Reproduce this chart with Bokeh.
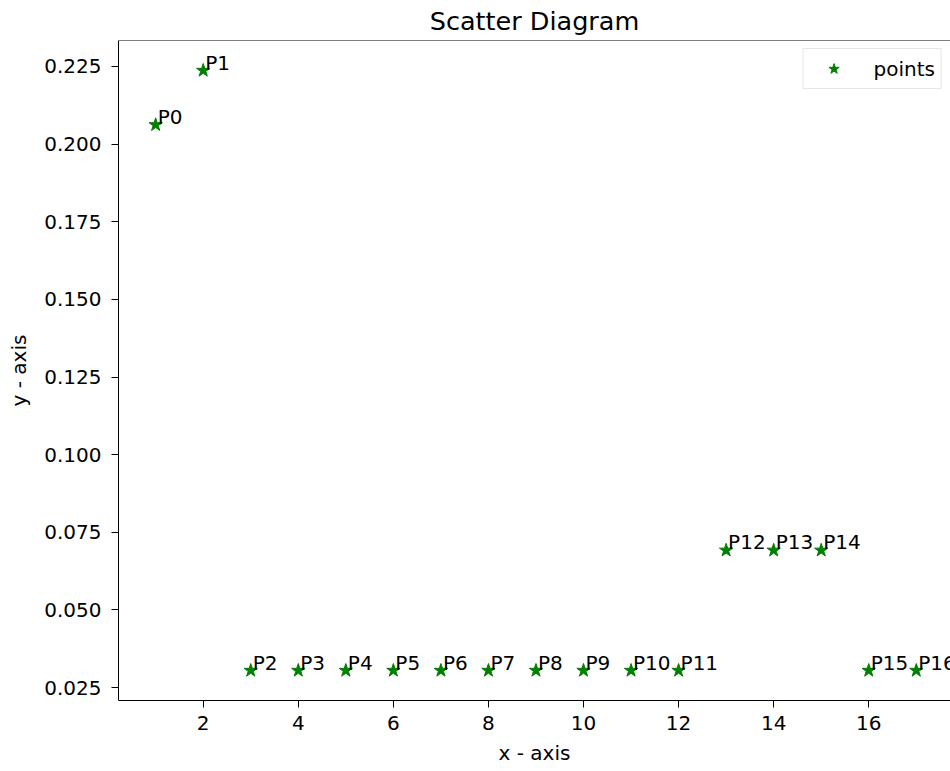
from bokeh.plotting import figure
from bokeh.models import ColumnDataSource, FixedTicker, Range1d, Legend, LegendItem, Span
from bokeh.core.properties import value
from bokeh.embed import file_html
from bokeh.resources import INLINE

# data
xs = list(range(1, 18))
labels = ["P%d" % i for i in range(17)]
ys = [0.2062, 0.2237, 0.0305, 0.0305, 0.0305, 0.0305, 0.0305, 0.0305, 0.0305,
      0.0305, 0.0305, 0.0305, 0.0692, 0.0692, 0.0692, 0.0305, 0.0305]
x_ticks = [2, 4, 6, 8, 10, 12, 14, 16]
y_ticks = [0.025, 0.050, 0.075, 0.100, 0.125, 0.150, 0.175, 0.200, 0.225]
y_tick_labels = {t: "%.3f" % t for t in y_ticks}

FONT = "DejaVu Sans"
Y_LO, Y_HI = 0.02084, 0.23336

src = ColumnDataSource(dict(x=xs, y=ys, label=labels))

p = figure(width=950, height=770, output_backend="svg",
           toolbar_location=None, title="Scatter Diagram",
           x_range=Range1d(0.218, 17.72), y_range=Range1d(Y_LO, Y_HI),
           min_border_left=118, min_border_right=0, min_border_top=40,
           min_border_bottom=70)

p.title.align = "center"
p.title.vertical_align = "middle"
p.title.text_font = FONT
p.title.text_font_size = "25.5px"
p.title.text_font_style = "normal"
p.title.text_color = "black"
p.title.standoff = 8

p.grid.visible = False
p.outline_line_color = None
p.background_fill_color = "white"
p.border_fill_color = "white"

# top spine (the right one lies beyond the picture's edge)
p.add_layout(Span(location=Y_HI, dimension="width", line_color="black",
                  line_width=1))

for ax in (p.xaxis[0], p.yaxis[0]):
    ax.major_label_text_font = FONT
    ax.major_label_text_font_size = "20px"
    ax.major_label_text_color = "black"
    ax.axis_label_text_font = FONT
    ax.axis_label_text_font_size = "20px"
    ax.axis_label_text_font_style = "normal"
    ax.axis_label_text_color = "black"
    ax.axis_line_color = "black"
    ax.major_tick_line_color = "black"
    ax.major_tick_out = 7
    ax.major_tick_in = 0
    ax.minor_tick_line_color = None

p.xaxis.ticker = FixedTicker(ticks=x_ticks)
p.yaxis.ticker = FixedTicker(ticks=y_ticks)
p.yaxis.major_label_overrides = y_tick_labels
p.xaxis.axis_label = "x - axis"
p.yaxis.axis_label = "y - axis"
p.xaxis.major_label_standoff = 8
p.yaxis.major_label_standoff = 10
p.xaxis.axis_label_standoff = 8
p.yaxis.axis_label_standoff = 10

r = p.scatter("x", "y", source=src, marker="star", size=14,
              fill_color="green", line_color="green")

p.text("x", "y", text="label", source=src, x_offset=2, y_offset=4,
       text_baseline="bottom", text_align="left",
       text_font=value(FONT), text_font_size="20px", text_color="black")

legend = Legend(items=[LegendItem(label="points", renderers=[r])],
                location="top_right")
legend.label_text_font = FONT
legend.label_text_font_size = "20px"
legend.label_text_color = "black"
legend.border_line_color = "#cccccc"
legend.border_line_width = 1
legend.background_fill_alpha = 0.8
legend.padding = 6
legend.glyph_width = 48
legend.glyph_height = 27
legend.label_standoff = 16
legend.margin = 8
p.add_layout(legend)

open("out.html", "w").write(file_html(p, INLINE))
